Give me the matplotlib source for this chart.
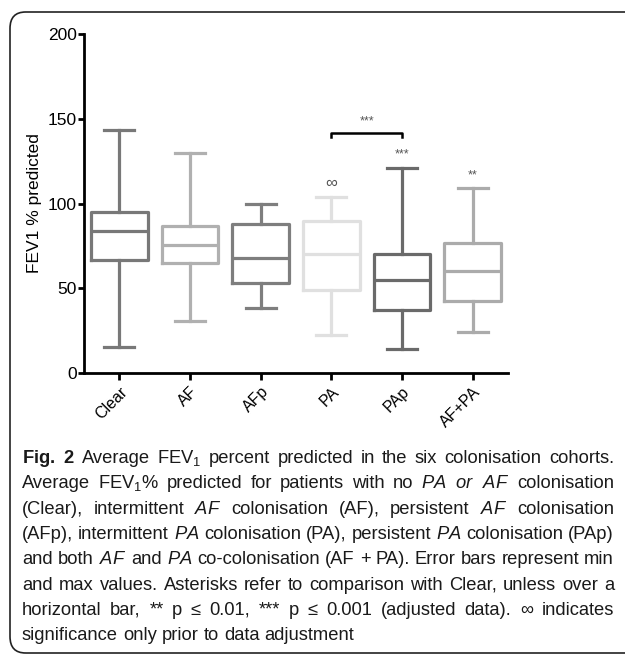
import matplotlib
matplotlib.use("Agg")
import matplotlib.pyplot as plt
from matplotlib.patches import FancyBboxPatch

# Kategorien und Boxplot-Kennwerte
groups = ["Clear", "AF", "AFp", "PA", "PAp", "AF+PA"]
mins = [15.3, 30.4, 38.4, 22.3, 14.1, 24.1]
q1 = [66.5, 64.9, 53.1, 49.2, 37.0, 42.5]
medians = [83.7, 75.7, 67.8, 70.4, 55.1, 60.0]
q3 = [95.0, 86.5, 87.8, 89.4, 70.0, 76.6]
maxs = [143.6, 130.0, 99.6, 103.7, 121.2, 109.0]
box_colors = ["#787878", "#b0b0b0", "#7e7e7e", "#e0e0e0", "#6a6a6a", "#ababab"]

# Signifikanz-Markierungen
marks = ["", "", "", "\u221e", "***", "**"]
bracket = (3, 4)
bracket_y = 141.7
bracket_label = "***"

caption = [
    r"$\mathbf{Fig.}$ $\mathbf{2}$ Average FEV$_1$ percent predicted in the six colonisation cohorts.",
    r"Average FEV$_1$% predicted for patients with no $\mathit{PA}$ $\mathit{or}$ $\mathit{AF}$ colonisation",
    r"(Clear), intermittent $\mathit{AF}$ colonisation (AF), persistent $\mathit{AF}$ colonisation",
    r"(AFp), intermittent $\mathit{PA}$ colonisation (PA), persistent $\mathit{PA}$ colonisation (PAp)",
    r"and both $\mathit{AF}$ and $\mathit{PA}$ co-colonisation (AF + PA). Error bars represent min",
    "and max values. Asterisks refer to comparison with Clear, unless over a",
    "horizontal bar, ** p \u2264 0.01, *** p \u2264 0.001 (adjusted data). \u221e indicates",
    "significance only prior to data adjustment",
]

cap_font = "Liberation Sans"
plt.rcParams["font.family"] = ["Liberation Sans", "DejaVu Sans"]
plt.rcParams["mathtext.fontset"] = "custom"
plt.rcParams["mathtext.rm"] = cap_font
plt.rcParams["mathtext.it"] = cap_font + ":italic"
plt.rcParams["mathtext.bf"] = cap_font + ":bold"

W, H = 625, 657
fig = plt.figure(figsize=(W / 100, H / 100), dpi=100)

# Rahmen der Abbildung
frame = FancyBboxPatch((10 / W, 1 - 653 / H), 700 / W, 641 / H,
                       boxstyle="round,pad=0,rounding_size=0.025",
                       transform=fig.transFigure, fill=False,
                       edgecolor="#222222", linewidth=1.2)
fig.patches.append(frame)

ax = fig.add_axes([84 / W, 1 - 373 / H, 424 / W, 339 / H])

stats = []
for i, g in enumerate(groups):
    stats.append(dict(label=g, whislo=mins[i], q1=q1[i], med=medians[i],
                      q3=q3[i], whishi=maxs[i]))

bp = ax.bxp(stats, positions=range(len(groups)), widths=0.8,
            showfliers=False, patch_artist=False)
for i, c in enumerate(box_colors):
    for art in [bp["boxes"][i], bp["medians"][i]]:
        art.set_color(c)
        art.set_linewidth(2.3)
    for art in bp["whiskers"][2 * i:2 * i + 2] + bp["caps"][2 * i:2 * i + 2]:
        art.set_color(c)
        art.set_linewidth(2.3)
    for cap in bp["caps"][2 * i:2 * i + 2]:
        cap.set_xdata([i - 0.21, i + 0.21])

for i, m in enumerate(marks):
    if m:
        ax.text(i, maxs[i] + 4, m, ha="center", va="bottom",
                fontsize=9 if m != "\u221e" else 12, color="#555555")

x0, x1 = bracket
ax.plot([x0, x0, x1, x1], [bracket_y - 2.5, bracket_y, bracket_y, bracket_y - 2.5],
        color="black", linewidth=1.8)
ax.text((x0 + x1) / 2, bracket_y + 3, bracket_label, ha="center", va="bottom",
        fontsize=9, color="#555555")

ax.set_xlim(-0.5, 5.5)
ax.set_ylim(0, 200)
ax.set_yticks([0, 50, 100, 150, 200])
ax.set_xticks(range(len(groups)))
ax.set_xticklabels(groups, rotation=45, ha="right", rotation_mode="anchor", fontsize=11.5)
ax.tick_params(axis="y", labelsize=12.5, length=4, width=2, pad=1)
ax.tick_params(axis="x", length=5, width=2, pad=3)
for s in ["top", "right"]:
    ax.spines[s].set_visible(False)
for s in ["left", "bottom"]:
    ax.spines[s].set_linewidth(2)
ax.set_ylabel("FEV1 % predicted", fontsize=12.5, labelpad=4)

# Bildunterschrift im Blocksatz, Wort fuer Wort gesetzt
renderer = fig.canvas.get_renderer()
left, right = 22, 614
size = 13.2
space = 0.27 * size * 100 / 72
for k, line in enumerate(caption):
    y = 1 - (463 + k * 25.3) / H
    words = []
    for w in line.split(" "):
        t = fig.text(0, y, w, ha="left", va="baseline", fontsize=size,
                     family=[cap_font, "DejaVu Sans"], color="#1a1a1a")
        words.append((t, t.get_window_extent(renderer).width))
    total = sum(wd for _, wd in words)
    if k < len(caption) - 1:
        gap = (right - left - total) / (len(words) - 1)
    else:
        gap = space
    x = left
    for t, wd in words:
        t.set_x(x / W)
        x += wd + gap

fig.savefig("out.png", dpi=100)
